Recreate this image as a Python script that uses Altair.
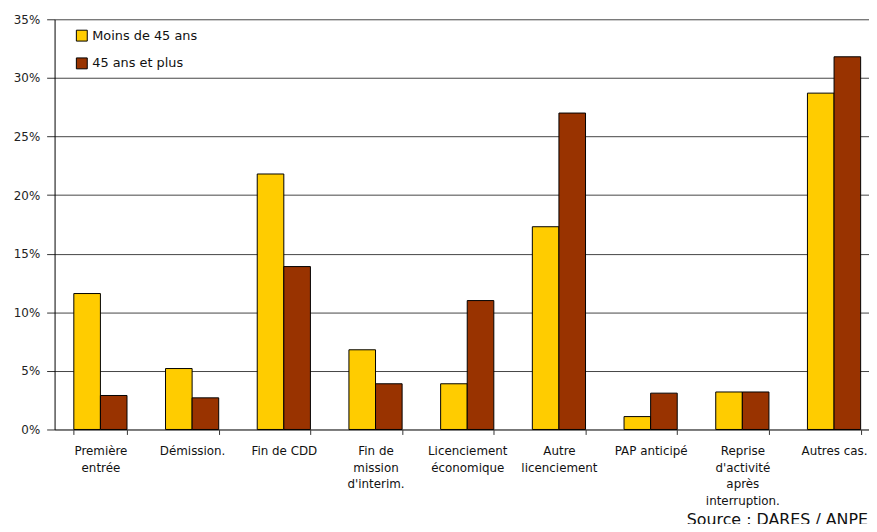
import altair as alt
import pandas as pd

# ---- data ----
categories = [
    "Première\nentrée",
    "Démission.",
    "Fin de CDD",
    "Fin de\nmission\nd'interim.",
    "Licenciement\néconomique",
    "Autre\nlicenciement",
    "PAP anticipé",
    "Reprise\nd'activité\naprès\ninterruption.",
    "Autres cas.",
]
series = ["Moins de 45 ans", "45 ans et plus"]
moins_45 = [11.6, 5.2, 21.8, 6.8, 3.9, 17.3, 1.1, 3.2, 28.7]
plus_45 = [2.9, 2.7, 13.9, 3.9, 11.0, 27.0, 3.1, 3.2, 31.8]
colors = ["#FFCC00", "#993300"]
y_ticks = [0, 5, 10, 15, 20, 25, 30, 35]
title_text = "Motifs d'entrée des DEFM de cat. 1 entre mai 2005 et avril 2006"
source_text = ["Source : DARES / ANPE"]

rows = []
for c, a, b in zip(categories, moins_45, plus_45):
    rows.append({"cat": c, "series": series[0], "value": a})
    rows.append({"cat": c, "series": series[1], "value": b})
df = pd.DataFrame(rows)

FONT = "DejaVu Sans"

bars = alt.Chart(df).mark_bar(stroke="black", strokeWidth=1).encode(
    x=alt.X(
        "cat:N",
        sort=categories,
        scale=alt.Scale(paddingInner=0.42, paddingOuter=0.21),
        axis=alt.Axis(
            title=None,
            labelAngle=0,
            labelExpr="split(datum.label, '\\n')",
            labelFont=FONT,
            labelFontSize=12,
            labelColor="#111",
            labelLineHeight=17,
            labelBaseline="top",
            labelPadding=11,
            labelLimit=300,
            labelOverlap=False,
            tickBand="extent",
            tickSize=5,
            tickColor="#333",
            domainColor="#555",
            grid=False,
        ),
    ),
    xOffset=alt.XOffset("series:N", sort=series, scale=alt.Scale(paddingInner=0, paddingOuter=0)),
    y=alt.Y(
        "value:Q",
        scale=alt.Scale(domain=[0, 35], nice=False),
        axis=alt.Axis(
            title=None,
            values=y_ticks,
            labelExpr="datum.value + '%'",
            labelFont=FONT,
            labelFontSize=12,
            labelColor="#222",
            labelPadding=7,
            tickSize=8,
            tickColor="#333",
            domainColor="#000",
            grid=True,
            gridColor="#444",
            gridWidth=1,
        ),
    ),
    color=alt.Color(
        "series:N",
        sort=series,
        scale=alt.Scale(domain=series, range=colors),
        legend=alt.Legend(
            orient="none",
            legendX=21,
            legendY=10,
            title=None,
            symbolType="square",
            symbolSize=121,
            symbolStrokeColor="black",
            symbolStrokeWidth=1,
            symbolOpacity=1,
            labelFont=FONT,
            labelFontSize=13,
            labelColor="#111",
            labelOffset=4,
            rowPadding=13,
            padding=0,
            labelExpr="datum.label == '45 ans et plus' ? '\u00a0' + datum.label : datum.label",
        ),
    ),
)

source = alt.Chart(pd.DataFrame({"t": source_text})).mark_text(
    align="left", baseline="alphabetic", font=FONT, fontSize=16, color="#111"
).encode(text="t:N", x=alt.value(638), y=alt.value(510))

chart = alt.layer(bars, source).properties(
    width=833,
    height=414,
    title=alt.Title(
        title_text,
        anchor="middle",
        baseline="alphabetic",
        offset=5,
        dx=36,
        font=FONT,
        fontSize=16,
        fontWeight="normal",
        color="#111",
    ),
    autosize=alt.AutoSizeParams(type="none"),
    padding={"left": 47, "top": 9, "right": -11, "bottom": 93},
).configure_view(stroke=None)

chart.save("out.html", embed_options={"renderer": "svg", "actions": False})
